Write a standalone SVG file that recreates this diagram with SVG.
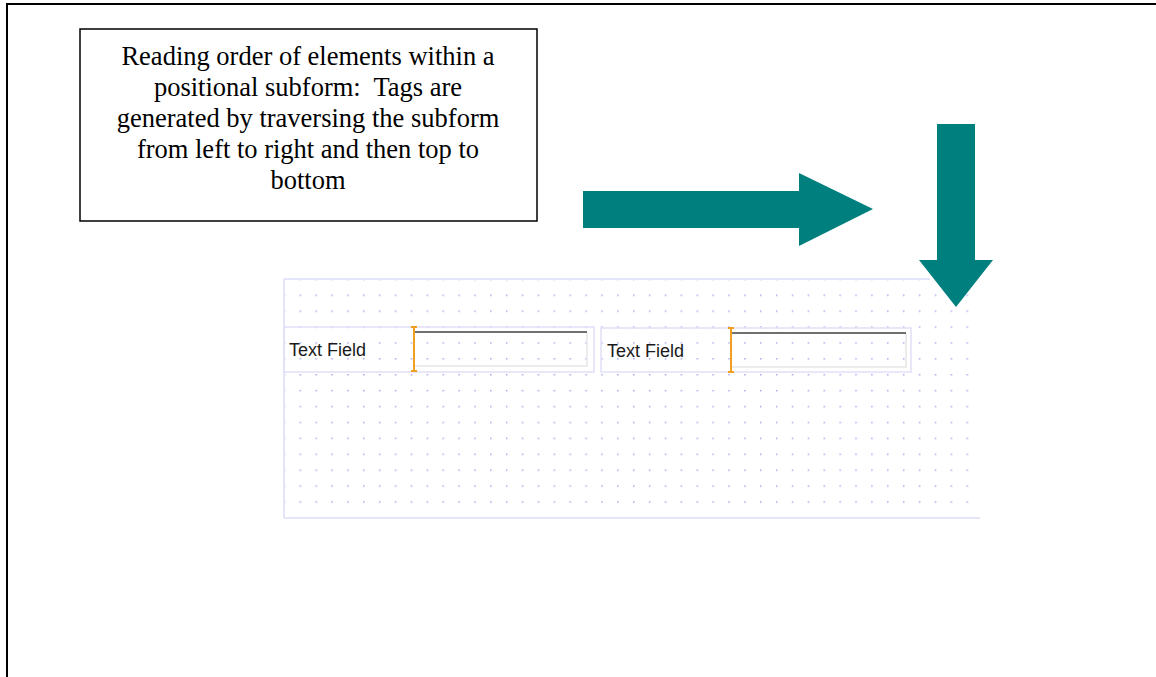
<svg xmlns="http://www.w3.org/2000/svg" width="1156" height="677" viewBox="0 0 1156 677">
  <style>
    .frame { stroke: #000; stroke-width: 2; fill: none; }
    .note { fill: #fff; stroke: #000; stroke-width: 1.5; }
    .note-text { font-family: "Liberation Serif", "Times New Roman", serif; font-size: 26.5px; fill: #000; text-anchor: middle; white-space: pre; }
    .arrow { fill: #007f7f; }
    .form-edge { stroke: #e4e4fa; stroke-width: 2; fill: none; }
    .field-box { fill: none; stroke: #e0e0f8; stroke-width: 1.5; }
    .input-side { stroke: #e6e6e6; stroke-width: 1.5; fill: none; }
    .input-top { stroke: #707070; stroke-width: 2; }
    .caret { stroke: #f0a020; stroke-width: 2; }
    .label { font-family: "Liberation Sans", Arial, sans-serif; font-size: 18px; fill: #1a1a1a; }
  </style>
  <defs>
    <pattern id="grid" patternUnits="userSpaceOnUse" x="299.5" y="294.5" width="15.88" height="15.9">
      <rect x="0" y="0" width="1.5" height="1.5" fill="#a8a8ec"/>
    </pattern>
  </defs>

  <rect width="1156" height="677" fill="#fff"/>

  <!-- page frame -->
  <g id="frame">
    <path class="frame" d="M7,677 V4 H1156"/>
  </g>

  <!-- description note -->
  <g id="note">
    <rect class="note" x="80" y="29" width="457" height="192"/>
    <text class="note-text" x="308" y="65">Reading order of elements within a</text>
    <text class="note-text" x="308" y="96" xml:space="preserve">positional subform:  Tags are</text>
    <text class="note-text" x="308" y="127">generated by traversing the subform</text>
    <text class="note-text" x="308" y="158">from left to right and then top to</text>
    <text class="note-text" x="308" y="189">bottom</text>
  </g>

  <!-- positional subform with snap grid -->
  <g id="subform">
    <rect x="285" y="280" width="690" height="237" fill="url(#grid)"/>
    <path class="form-edge" d="M284,279 H930 M284,279 V518 M284,518 H980"/>
  </g>

  <!-- first text field -->
  <g id="field1">
    <rect class="field-box" x="284" y="327" width="310" height="45"/>
    <path class="input-side" d="M587,332 V366 H415"/>
    <line class="input-top" x1="414" y1="332" x2="587" y2="332"/>
    <line class="caret" x1="414" y1="327" x2="414" y2="371"/>
    <path class="caret" d="M411,327 H417 M411,371 H417"/>
    <text class="label" x="289" y="356">Text Field</text>
  </g>

  <!-- second text field -->
  <g id="field2">
    <rect class="field-box" x="601" y="328" width="310" height="44"/>
    <path class="input-side" d="M906,333 V367 H732"/>
    <line class="input-top" x1="731" y1="333" x2="906" y2="333"/>
    <line class="caret" x1="731" y1="328" x2="731" y2="372"/>
    <path class="caret" d="M728,328 H734 M728,372 H734"/>
    <text class="label" x="607" y="357">Text Field</text>
  </g>

  <!-- reading direction arrows -->
  <g id="connectors">
    <polygon class="arrow" points="583,191 799,191 799,173 873,209 799,246 799,228 583,228"/>
    <polygon class="arrow" points="937,124 975,124 975,260 993,260 956,307 919,260 937,260"/>
  </g>
</svg>
